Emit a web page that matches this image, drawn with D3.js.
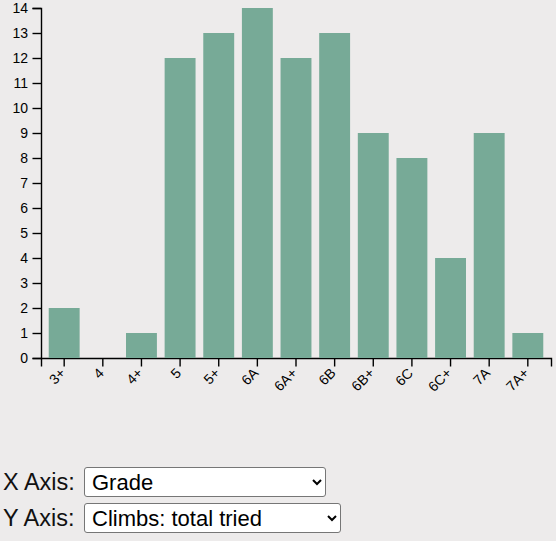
<!DOCTYPE html>
<html>
<head>
<meta charset="utf-8">
<script src="https://d3js.org/d3.v7.min.js"></script>
<style>
  body { margin: 0; background: #edebeb; font-family: "Liberation Sans", Arial, sans-serif; }
  #chart { position: absolute; left: 0; top: 0; }
  .ctl { position: absolute; left: 3px; font-size: 23.5px; color: #111; line-height: 30px; white-space: nowrap; }
  .ctl select {
    position: absolute; left: 81px; top: 0;
    font-family: "Liberation Sans", Arial, sans-serif; font-size: 22px;
    height: 30px; background: #fff; border: 1px solid #767676; border-radius: 3px;
    padding: 0 3px; color: #000;
  }
  .axis path, .axis line { stroke-width: 1.4px; }
</style>
</head>
<body>
<div id="chart"></div>
<div class="ctl" style="top:467px">X Axis:<select id="xsel" style="width:242px"><option>Grade</option></select></div>
<div class="ctl" style="top:503px">Y Axis:<select id="ysel" style="width:257px"><option>Climbs: total tried</option></select></div>
<script>
const grades = ["3+", "4", "4+", "5", "5+", "6A", "6A+", "6B", "6B+", "6C", "6C+", "7A", "7A+"]
const tried = [2, 0, 1, 12, 13, 14, 12, 13, 9, 8, 4, 9, 1]

const margin = {top: 8, right: 5, bottom: 90, left: 41}
const width = 510
const height = 350

const svg = d3.select("#chart")
  .append("svg")
  .attr("width", width + margin.left + margin.right)
  .attr("height", height + margin.top + margin.bottom)
  .append("g")
  .attr("transform", `translate(${margin.left},${margin.top})`)

const x = d3.scaleBand()
  .domain(grades)
  .range([0, width])
  .padding(0.2)

const y = d3.scaleLinear()
  .domain([0, 14])
  .range([height, 0])

svg.append("g")
  .attr("class", "axis")
  .attr("transform", `translate(0,${height})`)
  .call(d3.axisBottom(x).tickSize(8.5).tickPadding(4.2))
  .selectAll("text")
    .attr("font-size", "14px")
    .attr("font-family", "Liberation Sans, Arial, sans-serif")
    .attr("transform", "translate(-14,0)rotate(-45)")
    .style("text-anchor", "end")

svg.append("g")
  .attr("class", "axis")
  .call(d3.axisLeft(y).ticks(14).tickSize(8.5).tickPadding(4.5))
  .selectAll("text")
    .attr("font-size", "14px")
    .attr("font-family", "Liberation Sans, Arial, sans-serif")

svg.selectAll("rect.bar")
  .data(grades.map((g, i) => ({grade: g, value: tried[i]})))
  .join("rect")
    .attr("class", "bar")
    .attr("x", d => x(d.grade))
    .attr("y", d => y(d.value))
    .attr("width", x.bandwidth())
    .attr("height", d => height - y(d.value))
    .attr("fill", "#77aa97")
</script>
</body>
</html>
